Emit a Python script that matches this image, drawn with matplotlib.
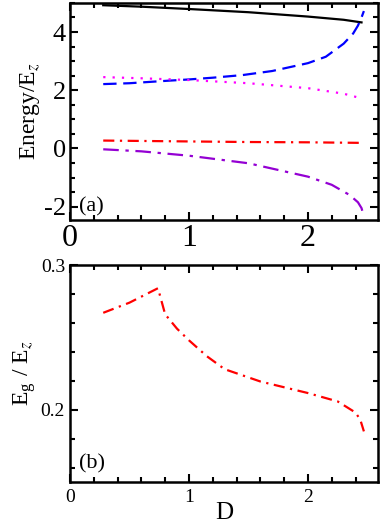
import matplotlib.pyplot as plt
from matplotlib.ticker import MultipleLocator

plt.rcParams['font.family'] = ['Liberation Serif', 'DejaVu Serif']
plt.rcParams['mathtext.fontset'] = 'stix'
plt.rcParams['axes.unicode_minus'] = False

# panel (a): energy levels vs D
d_black = [0.28, 0.6, 1.0, 1.5, 2.0, 2.3, 2.45]
e_black = [4.92, 4.87, 4.79, 4.68, 4.53, 4.42, 4.33]

d_blue = [0.28, 0.5, 0.8, 1.0, 1.2, 1.45, 1.7, 2.0, 2.15, 2.3, 2.38, 2.42, 2.45, 2.47]
e_blue = [2.21, 2.24, 2.32, 2.37, 2.43, 2.52, 2.66, 2.93, 3.15, 3.6, 3.95, 4.22, 4.5, 4.72]

d_mag = [0.28, 0.6, 1.0, 1.5, 2.0, 2.3, 2.45]
e_mag = [2.45, 2.41, 2.35, 2.24, 2.07, 1.88, 1.72]

d_red = [0.28, 1.0, 1.5, 2.0, 2.47]
e_red = [0.27, 0.24, 0.22, 0.21, 0.19]

d_pur = [0.28, 0.6, 1.0, 1.5, 2.0, 2.2, 2.35, 2.42, 2.45, 2.47]
e_pur = [-0.03, -0.1, -0.25, -0.51, -0.97, -1.25, -1.6, -1.85, -2.05, -2.34]

# panel (b): gap vs D
d_gap = [0.28, 0.5, 0.74, 0.8, 0.9, 1.0, 1.15, 1.3, 1.6, 2.0, 2.25, 2.4, 2.44, 2.47]
e_gap = [0.267, 0.274, 0.284, 0.266, 0.256, 0.248, 0.237, 0.228, 0.2195, 0.2115, 0.2057, 0.198, 0.193, 0.185]

fig = plt.figure(figsize=(3.82, 5.27), dpi=100)
ax1 = fig.add_axes([0.183, 0.5825, 0.807, 0.412])
ax2 = fig.add_axes([0.183, 0.0854, 0.807, 0.4116])

lw = 1.6
ax1.plot(d_black, e_black, color='black', lw=lw)
ax1.plot(d_blue, e_blue, color='#0000ff', lw=lw, dashes=(6, 3))
ax1.plot(d_mag, e_mag, color='#ff00ff', lw=lw, dashes=(1, 3.2))
ax1.plot(d_red, e_red, color='#ff0000', lw=lw, dashes=(5, 2.5, 1, 2.5))
ax1.plot(d_pur, e_pur, color='#9400d3', lw=lw, dashes=(7, 3, 1.5, 3))

ax2.plot(d_gap, e_gap, color='#ff0000', lw=lw, dashes=(5, 2.5, 1, 2.5))

ax1.set_xlim(0, 2.59)
ax1.set_ylim(-2.46, 5.0)
ax2.set_xlim(0, 2.59)
ax2.set_ylim(0.15, 0.3)

for ax in (ax1, ax2):
    ax.xaxis.set_major_locator(MultipleLocator(1))
    ax.xaxis.set_minor_locator(MultipleLocator(0.2))
    ax.tick_params(which='both', direction='in', top=True, right=True, width=1.5)
    ax.tick_params(which='major', length=6)
    ax.tick_params(which='minor', length=3.5)
    for s in ax.spines.values():
        s.set_linewidth(1.8)

ax1.yaxis.set_major_locator(MultipleLocator(2))
ax1.yaxis.set_minor_locator(MultipleLocator(0.5))
ax1.tick_params(axis='x', which='major', labelsize=23, pad=3)
ax1.tick_params(axis='y', which='major', labelsize=19, pad=3)
ax1.set_yticks([-2, 0, 2, 4])
ax1.set_ylabel('Energy/E$_z$', fontsize=17, labelpad=1)
ax1.text(0.03, 0.04, '(a)', transform=ax1.transAxes, fontsize=16)

ax2.yaxis.set_major_locator(MultipleLocator(0.1))
ax2.yaxis.set_minor_locator(MultipleLocator(0.02))
ax2.set_yticks([0.2, 0.3])
ax2.tick_params(which='major', labelsize=14)
ax2.tick_params(axis='x', which='major', pad=5)
ax2.set_ylabel('E$_\\mathregular{g}$ / E$_z$', fontsize=17, labelpad=2)
ax2.set_xlabel('D', fontsize=18, labelpad=-3)
ax2.text(0.03, 0.06, '(b)', transform=ax2.transAxes, fontsize=16)

fig.savefig('out.png', dpi=100)
